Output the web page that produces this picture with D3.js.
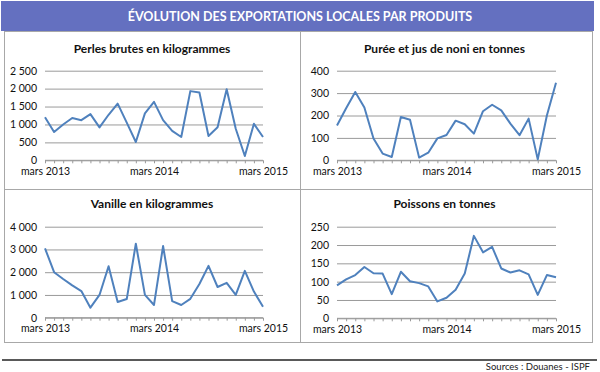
<!DOCTYPE html>
<html><head><meta charset="utf-8">
<script src="https://cdn.jsdelivr.net/npm/d3@7"></script>
<style>
html,body{margin:0;padding:0;background:#fff;}
svg{display:block;}
text{font-family:Lato,"Open Sans",sans-serif;}
</style></head>
<body>
<svg id="c" width="600" height="372"></svg>
<script>
const months = ["mars 2013","avr. 2013","mai 2013","juin 2013","juil. 2013","août 2013","sept. 2013","oct. 2013","nov. 2013","déc. 2013","janv. 2014","févr. 2014",
  "mars 2014","avr. 2014","mai 2014","juin 2014","juil. 2014","août 2014","sept. 2014","oct. 2014","nov. 2014","déc. 2014","janv. 2015","févr. 2015","mars 2015"];
const xTickLabels = ["mars 2013","mars 2014","mars 2015"];

const perles   = [1200,790,1000,1180,1120,1290,920,1270,1580,1050,510,1310,1630,1120,820,650,1930,1890,680,920,1980,880,120,1020,650];
const noni     = [155,232,305,236,97,30,15,193,181,12,34,98,113,177,161,119,219,248,223,164,112,186,4,200,346];
const vanille  = [3050,2000,1700,1420,1170,440,1000,2260,690,820,3250,1000,560,3150,730,560,830,1480,2280,1350,1530,1000,2060,1150,480];
const poissons = [90,106,118,140,123,122,66,127,101,96,87,46,56,78,122,225,180,195,136,125,131,120,64,118,112];

const titles = ["Perles brutes en kilogrammes","Purée et jus de noni en tonnes","Vanille en kilogrammes","Poissons en tonnes"];
const yTicksPerles = [0,500,1000,1500,2000,2500];
const yTicksNoni = [0,100,200,300,400];
const yTicksVanille = [0,1000,2000,3000,4000];
const yTicksPoissons = [0,50,100,150,200,250];

const bannerTitle = "ÉVOLUTION DES EXPORTATIONS LOCALES PAR PRODUITS";
const sourceText = "Sources : Douanes - ISPF";

const svg = d3.select("#c");
const fmtSp = v => String(v).replace(/\B(?=(\d{3})+(?!\d))/g, " ");

// banner
svg.append("rect").attr("x",1).attr("y",1).attr("width",593).attr("height",30).attr("fill","#6470c0");
svg.append("text").attr("x",300).attr("y",21).attr("text-anchor","middle").attr("fill","#fff")
  .attr("font-size",12.5).attr("font-weight","bold").text(bannerTitle);

// panel frame
const frame = svg.append("g").attr("fill","none").attr("stroke","#a8a8a8").attr("stroke-width",1);
frame.append("rect").attr("x",4.5).attr("y",31.5).attr("width",588).attr("height",311);
frame.append("line").attr("x1",300.5).attr("x2",300.5).attr("y1",31).attr("y2",343);
frame.append("line").attr("x1",4).attr("x2",593).attr("y1",189.5).attr("y2",189.5);

const panels = [
  {data:perles, ticks:yTicksPerles, title:titles[0], x0:45, x1:263, y0:160.3, y1:70.7, ty:53},
  {data:noni, ticks:yTicksNoni, title:titles[1], x0:337, x1:556, y0:160.3, y1:70.7, ty:53},
  {data:vanille, ticks:yTicksVanille, title:titles[2], x0:45, x1:263, y0:317.7, y1:226.7, ty:208},
  {data:poissons, ticks:yTicksPoissons, title:titles[3], x0:337, x1:556, y0:318.3, y1:226.7, ty:208},
];

panels.forEach(p => {
  const g = svg.append("g");
  const x = d3.scalePoint().domain(months).range([p.x0, p.x1]);
  const y = d3.scaleLinear().domain([0, d3.max(p.ticks)]).range([p.y0, p.y1]);
  g.append("text").attr("x",(p.x0+p.x1)/2 - 2).attr("y",p.ty).attr("text-anchor","middle")
    .attr("font-size",12).attr("font-weight","bold").attr("fill","#111").text(p.title);
  const ya = d3.axisLeft(y).tickValues(p.ticks).tickSize(-(p.x1-p.x0)).tickFormat(fmtSp).tickPadding(8);
  const gy = g.append("g").attr("transform",`translate(${p.x0},0)`).call(ya);
  gy.select(".domain").remove();
  gy.selectAll(".tick line").attr("stroke","#9a9a9a").attr("stroke-width",1);
  gy.selectAll(".tick text").attr("font-size",10.5).attr("fill","#111").attr("font-family","Lato,'Open Sans',sans-serif");
  const xa = d3.axisBottom(x).tickSize(3).tickFormat(d => xTickLabels.includes(d) ? d : "").tickPadding(4);
  const gx = g.append("g").attr("transform",`translate(0,${p.y0})`).call(xa);
  gx.select(".domain").attr("stroke","#9a9a9a").attr("d",`M${p.x0},0H${p.x1}`);
  gx.selectAll(".tick line").attr("stroke","#9a9a9a");
  gx.selectAll(".tick text").attr("font-size",10.5).attr("fill","#111").attr("font-family","Lato,'Open Sans',sans-serif");
  g.append("path").attr("fill","none").attr("stroke","#4f81bd").attr("stroke-width",2)
    .attr("stroke-linejoin","round")
    .attr("d", d3.line().x((d,i)=>x(months[i])).y(d=>y(d))(p.data));
});

svg.append("line").attr("x1",2).attr("x2",597).attr("y1",360).attr("y2",360).attr("stroke","#222").attr("stroke-width",1.5);
svg.append("text").attr("x",590).attr("y",370).attr("text-anchor","end").attr("font-size",9.5).attr("fill","#222").text(sourceText);
</script>
</body></html>
